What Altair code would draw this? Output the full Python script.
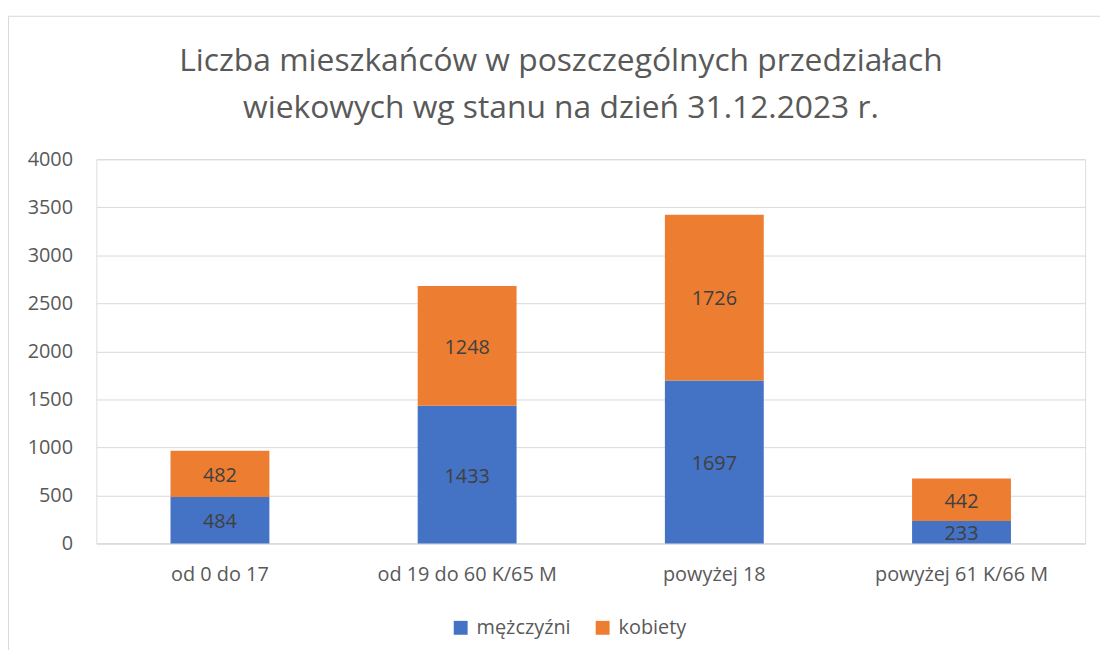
import altair as alt
import pandas as pd

categories = ["od 0 do 17", "od 19 do 60 K/65 M", "powyżej 18", "powyżej 61 K/66 M"]
men = [484, 1433, 1697, 233]
women = [482, 1248, 1726, 442]
series = ["mężczyźni", "kobiety"]
colors = ["#4472C4", "#ED7D31"]
y_ticks = [0, 500, 1000, 1500, 2000, 2500, 3000, 3500, 4000]
title_lines = ["Liczba mieszkańców w poszczególnych przedziałach",
               "wiekowych wg stanu na dzień 31.12.2023 r."]

rows = []
for i, c in enumerate(categories):
    rows.append({"cat": c, "sex": series[0], "value": men[i], "ord": 0})
    rows.append({"cat": c, "sex": series[1], "value": women[i], "ord": 1})
df = pd.DataFrame(rows)

FONT = "Open Sans"
TXT = "#595959"
GRID = "#D9D9D9"

base = alt.Chart(df).transform_stack(
    stack="value", groupby=["cat"], as_=["y0", "y1"], sort=[alt.SortField("ord")]
).transform_calculate(mid="(datum.y0 + datum.y1) / 2")

xenc = alt.X(
    "cat:N", sort=categories,
    scale=alt.Scale(paddingInner=0.6, paddingOuter=0.3),
    axis=alt.Axis(title=None, labelAngle=0, ticks=False, domain=True, domainColor=GRID,
                  domainWidth=1, grid=False, labelFontSize=20, labelFont=FONT,
                  labelColor=TXT, labelPadding=21, labelLimit=0),
)
yscale = alt.Scale(domain=[0, 4000], nice=False)

bars = base.mark_bar().encode(
    x=xenc,
    y=alt.Y("y0:Q", scale=yscale,
            axis=alt.Axis(title=None, values=y_ticks, format="d", domain=False, ticks=False,
                          grid=True, gridColor=GRID, gridWidth=1, labelFontSize=20,
                          labelFont=FONT, labelColor=TXT, labelPadding=24)),
    y2="y1:Q",
    color=alt.Color("sex:N", scale=alt.Scale(domain=series, range=colors),
                    legend=alt.Legend(title=None, orient="none", legendX=357, legendY=462,
                                      direction="horizontal", symbolType="square",
                                      symbolSize=196, symbolStrokeWidth=0,
                                      labelFontSize=20, labelFont=FONT, labelColor=TXT,
                                      labelOffset=6, columnPadding=22)),
)

labels = base.mark_text(fontSize=20, font=FONT, color="#404040", dy=2).encode(
    x=alt.X("cat:N", sort=categories),
    y=alt.Y("mid:Q", scale=yscale),
    text=alt.Text("value:Q"),
)

frame_df = pd.DataFrame({"a": [0]})
left_line = alt.Chart(frame_df).mark_rule(color=GRID, strokeWidth=1).encode(
    x=alt.value(-88.5), y=alt.value(-144), y2=alt.value(500))
top_line = alt.Chart(frame_df).mark_rule(color=GRID, strokeWidth=1).encode(
    x=alt.value(-89), x2=alt.value(1011), y=alt.value(-144))

title1 = alt.Chart(pd.DataFrame({"t": [title_lines[0]]})).mark_text(
    fontSize=32, font=FONT, color=TXT, baseline="alphabetic", align="center").encode(
    x=alt.value(468), y=alt.value(-89), text="t:N")
title2 = alt.Chart(pd.DataFrame({"t": [title_lines[1]]})).mark_text(
    fontSize=32, font=FONT, color=TXT, baseline="alphabetic", align="center").encode(
    x=alt.value(468), y=alt.value(-42), text="t:N")

chart = alt.layer(left_line, top_line, bars, labels, title1, title2).properties(
    width=996, height=387,
    autosize=alt.AutoSizeParams(type="none"),
    padding={"left": 89, "top": 150, "right": 15, "bottom": 105},
).configure_view(stroke=None).configure(background="white")

chart.save("out.html", embed_options={"renderer": "svg", "actions": False})
